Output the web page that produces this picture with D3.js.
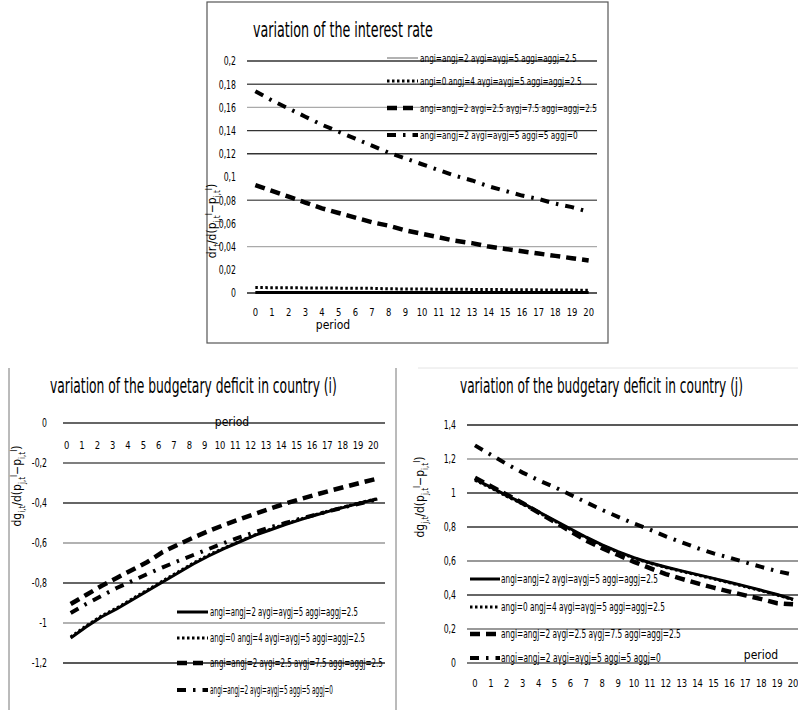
<!DOCTYPE html>
<html>
<head>
<meta charset="utf-8">
<script src="https://cdn.jsdelivr.net/npm/d3@7"></script>
<style>
  body { margin: 0; background: #fff; }
  svg { display: block; font-family: "Liberation Sans Narrow", "DejaVu Sans Condensed", "Liberation Sans", sans-serif; }
</style>
</head>
<body>
<svg width="798" height="710"></svg>
<script>
// periods on the x axis
var periods = [0, 1, 2, 3, 4, 5, 6, 7, 8, 9, 10, 11, 12, 13, 14, 15, 16, 17, 18, 19, 20];

var legendLabels = [
  "angi=angj=2 aγgi=aγgj=5 aggi=aggj=2.5",
  "angi=0 angj=4 aγgi=aγgj=5 aggi=aggj=2.5",
  "angi=angj=2 aγgi=2.5 aγgj=7.5 aggi=aggj=2.5",
  "angi=angj=2 aγgi=aγgj=5 aggi=5 aggj=0"
];

// tick values
var rateTicks = [0, 0.02, 0.04, 0.06, 0.08, 0.1, 0.12, 0.14, 0.16, 0.18, 0.2];
var deficitITicks = [0, -0.2, -0.4, -0.6, -0.8, -1, -1.2];
var deficitJTicks = [0, 0.2, 0.4, 0.6, 0.8, 1, 1.2, 1.4];

// variation of the interest rate
var rateS1 = [0.0005, 0.0005, 0.0005, 0.0005, 0.0005, 0.0005, 0.0005, 0.0005, 0.0005, 0.0005, 0.0005,
              0.0005, 0.0005, 0.0005, 0.0005, 0.0005, 0.0005, 0.0005, 0.0005, 0.0005, 0.0005];
var rateS2 = [0.0047, 0.0046, 0.0045, 0.0044, 0.0043, 0.0042, 0.0041, 0.004, 0.0036, 0.0035, 0.0034,
              0.0033, 0.0032, 0.0031, 0.003, 0.0029, 0.0028, 0.0027, 0.0026, 0.0025, 0.0024];
var rateS3 = [0.093, 0.088, 0.083, 0.078, 0.073, 0.069, 0.065, 0.061, 0.058, 0.054, 0.051,
              0.048, 0.045, 0.043, 0.040, 0.038, 0.036, 0.034, 0.032, 0.030, 0.028];
var rateS4 = [0.174, 0.166, 0.159, 0.152, 0.145, 0.139, 0.133, 0.127, 0.121, 0.116, 0.111,
              0.106, 0.101, 0.097, 0.092, 0.088, 0.084, 0.081, 0.077, 0.074, 0.070];

// variation of the budgetary deficit in country (i)
var defIS1 = [-1.075, -1.02, -0.97, -0.93, -0.885, -0.84, -0.795, -0.75, -0.705, -0.665, -0.628,
              -0.595, -0.562, -0.535, -0.508, -0.483, -0.46, -0.438, -0.418, -0.398, -0.38];
var defIS2 = [-1.07, -1.015, -0.965, -0.925, -0.88, -0.835, -0.79, -0.745, -0.70, -0.66, -0.625,
              -0.592, -0.56, -0.532, -0.505, -0.48, -0.457, -0.436, -0.416, -0.396, -0.378];
var defIS3 = [-0.905, -0.86, -0.815, -0.775, -0.735, -0.695, -0.645, -0.608, -0.573, -0.54, -0.51,
              -0.482, -0.455, -0.428, -0.403, -0.38, -0.358, -0.337, -0.317, -0.297, -0.278];
var defIS4 = [-0.95, -0.905, -0.865, -0.825, -0.79, -0.755, -0.722, -0.69, -0.66, -0.63, -0.60,
              -0.572, -0.546, -0.522, -0.5, -0.478, -0.458, -0.438, -0.418, -0.4, -0.382];

// variation of the budgetary deficit in country (j)
var defJS1 = [1.08, 1.035, 0.985, 0.94, 0.89, 0.84, 0.79, 0.74, 0.695, 0.655, 0.62,
              0.59, 0.565, 0.542, 0.52, 0.498, 0.475, 0.452, 0.428, 0.403, 0.375];
var defJS2 = [1.075, 1.03, 0.98, 0.935, 0.885, 0.835, 0.785, 0.737, 0.692, 0.652, 0.617,
              0.587, 0.562, 0.539, 0.517, 0.495, 0.472, 0.449, 0.425, 0.4, 0.372];
var defJS3 = [1.09, 1.04, 0.99, 0.94, 0.885, 0.83, 0.775, 0.72, 0.675, 0.635, 0.595,
              0.558, 0.523, 0.495, 0.468, 0.443, 0.42, 0.398, 0.376, 0.352, 0.345];
var defJS4 = [1.28, 1.225, 1.17, 1.12, 1.075, 1.035, 0.99, 0.945, 0.9, 0.86, 0.82,
              0.785, 0.745, 0.71, 0.675, 0.645, 0.62, 0.592, 0.565, 0.54, 0.52];

// line looks, same order as the legend
var lineStyles = [
  { dash: null, width: 3 },
  { dash: "2.5,2.5", width: 3 },
  { dash: "10,6", width: 4.5 },
  { dash: "9,7,2.5,7", width: 4 }
];
var drawOrder = [1, 0, 2, 3];

var svg = d3.select("svg");

function fmt(v) { return String(v).replace(".", ","); }

// squeeze a text to a given width (the original uses a narrow font)
function squeeze(sel, x, y, len) {
  sel.attr("x", 0).attr("y", 0);
  var w = sel.node().getComputedTextLength();
  sel.attr("transform", "translate(" + x + "," + y + ") scale(" + (len / w) + ",1)");
}

// axis title with small sub/superscripts
function richLabel(sel, parts) {
  var shift = 0;
  parts.forEach(function(p) {
    var want = p[1] * 4;
    sel.append("tspan")
      .attr("dy", want - shift)
      .attr("font-size", p[1] === 0 ? 12 : 8)
      .text(p[0]);
    shift = want;
  });
}

// panel borders
svg.append("rect").attr("x", 207).attr("y", 2).attr("width", 401).attr("height", 341)
  .attr("fill", "none").attr("stroke", "#555").attr("stroke-width", 1.2);
svg.append("line").attr("x1", 9).attr("x2", 9).attr("y1", 368).attr("y2", 710).attr("stroke", "#777");
svg.append("line").attr("x1", 396).attr("x2", 396).attr("y1", 368).attr("y2", 710).attr("stroke", "#777");
svg.append("line").attr("x1", 418).attr("x2", 798).attr("y1", 368).attr("y2", 368).attr("stroke", "#e4e4e4");

function panel(cfg) {
  var g = svg.append("g");
  var x = d3.scaleBand().domain(periods).range(cfg.xRange);
  var y = d3.scaleLinear().domain(cfg.yDomain).range(cfg.yRange);

  // gridlines, some are missing in the original scan
  g.selectAll("line.grid").data(cfg.ticks).join("line")
    .attr("class", "grid")
    .attr("x1", cfg.xRange[0]).attr("x2", cfg.gridEnd)
    .attr("y1", function(d) { return y(d); })
    .attr("y2", function(d) { return y(d); })
    .attr("stroke", function(d, i) { return cfg.gridColors[i]; })
    .attr("stroke-width", 1.4)
    .attr("display", function(d, i) { return cfg.gridColors[i] ? null : "none"; });

  var yAxis = d3.axisLeft(y).tickValues(cfg.ticks).tickSize(0).tickPadding(0).tickFormat(fmt);
  var yg = g.append("g").attr("transform", "translate(" + cfg.yTickX + ",0)").call(yAxis);
  yg.select(".domain").remove();
  yg.attr("font-family", null).attr("font-size", 12);
  yg.selectAll("text").attr("transform", "scale(0.72,1)");

  var xAxis = d3.axisBottom(x).tickSize(0).tickPadding(0);
  var xg = g.append("g").attr("transform", "translate(" + cfg.xTickShift + "," + cfg.xTickY + ")").call(xAxis);
  xg.select(".domain").remove();
  xg.attr("font-family", null).attr("font-size", 11);
  xg.selectAll("text").attr("y", 0).attr("dy", "0.35em").attr("transform", "scale(0.85,1)");

  var line = d3.line()
    .x(function(v, i) { return x(periods[i]) + x.bandwidth() / 2; })
    .y(function(v) { return y(v); });

  drawOrder.forEach(function(k) {
    var st = lineStyles[k];
    g.append("path").datum(cfg.series[k])
      .attr("d", line)
      .attr("fill", "none")
      .attr("stroke", "#000")
      .attr("stroke-width", st.width)
      .attr("stroke-dasharray", st.dash);
  });

  // legend
  var lg = cfg.legend;
  legendLabels.forEach(function(lab, i) {
    var st = lineStyles[i];
    var ly = lg.rows[i];
    var sample = g.append("line")
      .attr("x1", lg.sx0).attr("x2", lg.sx1).attr("y1", ly).attr("y2", ly)
      .attr("stroke", "#000").attr("stroke-width", st.width)
      .attr("stroke-dasharray", st.dash);
    // the rate chart shows its first key as a thin grey line
    if (i === 0 && lg.firstThin) sample.attr("stroke", "#999").attr("stroke-width", 1.5);
    var t = g.append("text")
      .attr("dy", "0.35em")
      .attr("font-size", lg.size)
      .text(lab);
    squeeze(t, lg.tx, ly, lg.lens[i]);
  });

  var tt = g.append("text")
    .attr("font-size", cfg.title.size)
    .text(cfg.title.text);
  squeeze(tt, cfg.title.x, cfg.title.y, cfg.title.len);

  g.append("text")
    .attr("x", cfg.period[0]).attr("y", cfg.period[1]).attr("dy", "0.35em")
    .attr("text-anchor", "middle").attr("font-size", 12)
    .text("period");

  var yl = g.append("text")
    .attr("transform", "translate(" + cfg.yTitle[0] + "," + cfg.yTitle[1] + ") rotate(-90)")
    .attr("text-anchor", "middle");
  richLabel(yl, cfg.yTitleParts);
}

panel({
  xRange: [247, 597], gridEnd: 597,
  yDomain: [0, 0.2], yRange: [293, 61],
  ticks: rateTicks,
  gridColors: ["#222", null, "#aaa", null, "#666", null, "#333", "#333", "#aaa", "#555", "#333"],
  yTickX: 236, xTickShift: 0, xTickY: 312,
  series: [rateS1, rateS2, rateS3, rateS4],
  legend: { sx0: 387, sx1: 418, tx: 420, rows: [58, 81, 108, 135], lens: [157, 162, 177, 158], size: 10, firstThin: true },
  title: { x: 253, y: 37, size: 21, len: 180, text: "variation of the interest rate" },
  period: [333, 325],
  yTitle: [216, 221],
  yTitleParts: [["dr", 0], ["t", 1], ["/d(p", 0], ["j,t", 1], ["I", -1], ["\u2212p", 0], ["i,t", 1], ["I", -1], [")", 0]]
});

panel({
  xRange: [63, 385], gridEnd: 385,
  yDomain: [-1.2, 0], yRange: [663, 423],
  ticks: deficitITicks,
  gridColors: ["#333", "#555", "#333", "#999", "#333", "#999", "#222"],
  yTickX: 47, xTickShift: -4, xTickY: 445,
  series: [defIS1, defIS2, defIS3, defIS4],
  legend: { sx0: 177, sx1: 208, tx: 210, rows: [612, 638, 663, 690], lens: [148, 155, 173, 123], size: 12 },
  title: { x: 50, y: 393, size: 22, len: 287, text: "variation of the budgetary deficit in country (i)" },
  period: [232, 422],
  yTitle: [21, 486],
  yTitleParts: [["dg", 0], ["i,t", 1], ["/d(p", 0], ["j,t", 1], ["I", -1], ["\u2212p", 0], ["i,t", 1], ["I", -1], [")", 0]]
});

panel({
  xRange: [467, 801], gridEnd: 798,
  yDomain: [0, 1.4], yRange: [663, 425],
  ticks: deficitJTicks,
  gridColors: ["#555", "#777", "#333", "#777", "#333", "#333", "#999", "#222"],
  yTickX: 456, xTickShift: 0, xTickY: 683,
  series: [defJS1, defJS2, defJS3, defJS4],
  legend: { sx0: 470, sx1: 500, tx: 501, rows: [579, 607, 634, 658], lens: [157, 164, 180, 160], size: 12 },
  title: { x: 460, y: 393, size: 22, len: 283, text: "variation of the budgetary deficit in country (j)" },
  period: [761, 655],
  yTitle: [424, 497],
  yTitleParts: [["dg", 0], ["j,t", 1], ["/d(p", 0], ["j,t", 1], ["I", -1], ["\u2212p", 0], ["i,t", 1], ["I", -1], [")", 0]]
});
</script>
</body>
</html>
